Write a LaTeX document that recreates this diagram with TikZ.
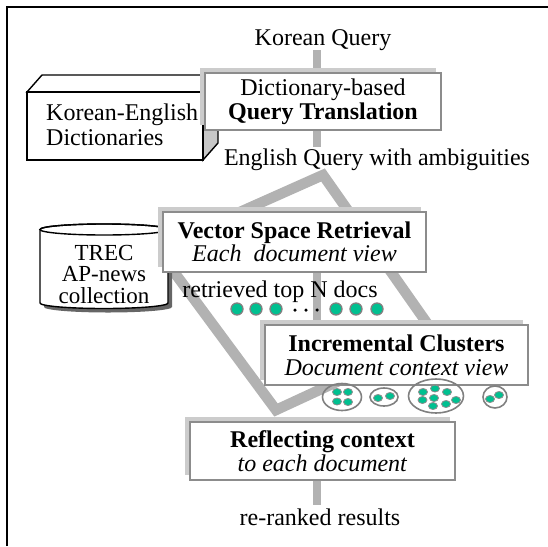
\documentclass[tikz,border=0pt]{standalone}
\usepackage{fontspec}
\setmainfont{Liberation Serif}
\usetikzlibrary{shadows,shapes.geometric,backgrounds}
\definecolor{conn}{HTML}{B2B2B2}
\definecolor{docfill}{HTML}{00C090}
\definecolor{boxline}{HTML}{8C8C8C}
\tikzset{
  txt/.style={font=\rmfamily\fontsize{24}{24}\selectfont, inner sep=0pt},
  procbox/.style={txt, draw=boxline, line width=2.2pt, fill=white, align=center,
     drop shadow={shadow xshift=-5pt,shadow yshift=5pt,fill=black!20,opacity=1}},
  flow/.style={draw=conn, line width=8pt},
  arm/.style={draw=conn, line width=10.5pt, line join=miter},
  docdot/.style={circle, draw=black!50, line width=1.3pt, fill=docfill, minimum size=12pt, inner sep=0pt},
  smalldot/.style={ellipse, draw=black!45, line width=0.8pt, fill=docfill, minimum width=9pt, minimum height=7pt, inner sep=0pt},
  cluster/.style={ellipse, draw=black!50, line width=1.6pt, inner sep=0pt},
  blackdot/.style={circle, fill=black, minimum size=3.5pt, inner sep=0pt}
}
\begin{document}
\begin{tikzpicture}[x=1pt,y=1pt]
\useasboundingbox (0,0) rectangle (548,-546);
% frame
\draw[line width=2.4pt] (7,-546) -- (7,-7) -- (548,-7);

% Korean-English dictionaries cube
\draw[line width=1.4pt, fill=white] (27,-92) -- (42,-75) -- (218,-75) -- (203,-92) -- cycle;
\draw[line width=1.4pt, fill=black!22] (203,-92) -- (218,-75) -- (218,-143) -- (203,-160) -- cycle;
\draw[line width=1.4pt, fill=white] (27,-92) rectangle (203,-160);
\node[txt, anchor=west, align=left, font=\rmfamily\fontsize{24}{25}\selectfont] (dict) at (46,-125) {Korean-English\\Dictionaries};

% TREC cylinder
\fill[black!60] (44,-233.5) -- (44,-307) arc[start angle=180,end angle=360,x radius=64,y radius=5.5] -- (172,-233.5) -- cycle;
\draw[line width=1.4pt, fill=white] (40,-229.5) -- (40,-303) arc[start angle=180,end angle=360,x radius=64,y radius=5.5] -- (168,-229.5) arc[start angle=0,end angle=180,x radius=64,y radius=5.5] -- cycle;
\draw[line width=1.4pt] (104,-229.5) ellipse[x radius=64,y radius=5.5];
\node[txt, align=center, font=\rmfamily\fontsize{23}{21.5}\selectfont] (trec) at (104,-274) {TREC\\AP-news\\collection};

% texts
\node[txt] (kq) at (323,-40) {Korean Query};
\node[txt] (eq) at (377,-160) {English Query with ambiguities};
\node[txt] (tr) at (280,-292) {retrieved top N docs};
\node[txt] (rr) at (320,-517) {re-ranked results};

% process boxes
\node[procbox, minimum width=236pt, minimum height=57pt] (qt) at (323,-101.5)
  {Dictionary-based\\\textbf{Query Translation}};
\node[procbox, minimum width=263pt, minimum height=60pt, font=\rmfamily\fontsize{24}{21}\selectfont] (vs) at (294.5,-242)
  {\textbf{Vector Space Retrieval}\\\textit{Each\ \ document view}};
\node[procbox, minimum width=263pt, minimum height=60pt] (ic) at (396.5,-355)
  {\textbf{Incremental Clusters}\\\textit{Document context view}};
\node[procbox, minimum width=265pt, minimum height=58pt] (rc) at (322.5,-451)
  {\textbf{Reflecting context}\\\textit{to each document}};

% retrieved documents
\node[docdot] (d1) at (237,-309) {};
\node[docdot] (d2) at (256,-309) {};
\node[docdot] (d3) at (276,-309) {};
\node[blackdot] (e1) at (295,-310) {};
\node[blackdot] (e2) at (306,-310) {};
\node[blackdot] (e3) at (317,-310) {};
\node[docdot] (d4) at (336,-309) {};
\node[docdot] (d5) at (356,-309) {};
\node[docdot] (d6) at (377,-309) {};

% clusters
\node[cluster, minimum width=39pt, minimum height=27pt] (k1) at (342,-397) {};
\node[smalldot] at (337,-392) {};
\node[smalldot] at (348,-392) {};
\node[smalldot] at (337,-401.5) {};
\node[smalldot] at (348,-402) {};
\node[cluster, minimum width=28pt, minimum height=18pt] (k2) at (384,-397) {};
\node[smalldot] at (378,-398) {};
\node[smalldot] at (390,-396) {};
\node[cluster, minimum width=55pt, minimum height=34pt] (k3) at (436,-396) {};
\node[smalldot] at (423,-392) {};
\node[smalldot] at (435,-388.5) {};
\node[smalldot] at (447,-392) {};
\node[smalldot] at (422.5,-400) {};
\node[smalldot] at (434,-398) {};
\node[smalldot] at (456,-400) {};
\node[smalldot] at (433,-406) {};
\node[smalldot] at (446,-404) {};
\node[cluster, minimum width=24pt, minimum height=22pt] (k4) at (495,-397) {};
\node[smalldot] at (490,-399) {};
\node[smalldot] at (499,-395) {};

% connectors behind everything
\begin{pgfonlayer}{background}
\coordinate (a1) at (317,-50);
\coordinate (a2) at (317,-147);
\coordinate (apex) at (323,-175);
\coordinate (lv) at (157,-249);
\coordinate (bv) at (276,-410);
\coordinate (rv) at (436,-336);
\coordinate (a3) at (317,-505);
\draw[flow] (a1) -- (a1 |- qt.north);
\draw[flow] (a2 |- qt.south) -- (a2);
\draw[arm] (apex) -- (lv) -- (bv) -- (rv) -- cycle;
\draw[flow] (a2 |- vs.south) -- (a2 |- ic.north);
\draw[flow] (a3 |- rc.south) -- (a3);
\end{pgfonlayer}
\end{tikzpicture}
\end{document}
